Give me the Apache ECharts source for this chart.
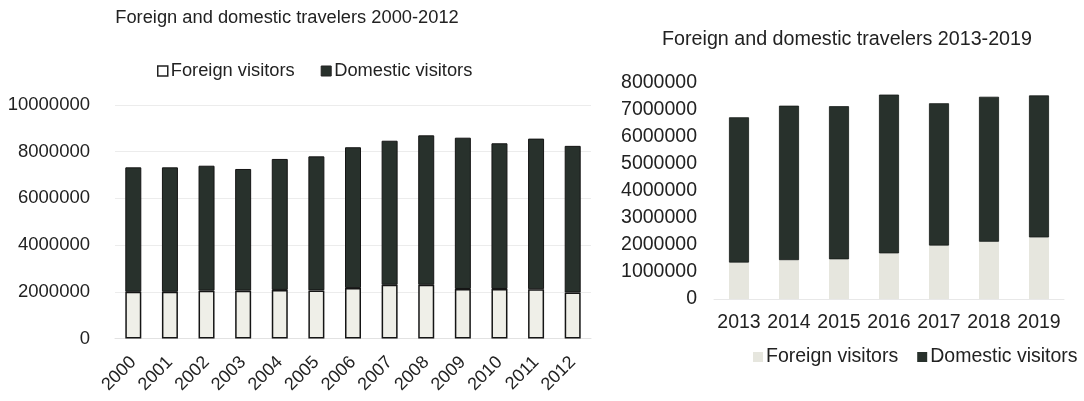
<!DOCTYPE html>
<html>
<head>
<meta charset="utf-8">
<script src="https://cdn.jsdelivr.net/npm/echarts@6/dist/echarts.min.js"></script>
<style>
html,body{margin:0;padding:0;background:#fff;}
#c{width:1084px;height:401px;}
</style>
</head>
<body>
<div id="c"></div>
<script>
// ---- data ----
const leftYears = ['2000','2001','2002','2003','2004','2005','2006','2007','2008','2009','2010','2011','2012'];
const leftForeign = [2000000,2000000,2050000,2050000,2080000,2060000,2160000,2300000,2300000,2120000,2120000,2110000,1970000];
const leftDomestic = [5330000,5330000,5350000,5210000,5610000,5740000,6030000,6170000,6400000,6480000,6240000,6450000,6280000];

const rightYears = ['2013','2014','2015','2016','2017','2018','2019'];
const rightForeign = [1350000,1440000,1470000,1690000,1980000,2120000,2280000];
const rightDomestic = [5380000,5720000,5670000,5880000,5270000,5370000,5260000];

const leftTitle = 'Foreign and domestic travelers 2000-2012';
const rightTitle = 'Foreign and domestic travelers 2013-2019';
const seriesNames = ['Foreign visitors','Domestic visitors'];

// ---- styles ----
const FONT = '"Liberation Sans", Arial, sans-serif';
const TXT = '#222';
const DARK = '#28312c';
const LIGHT_L = '#efefe8';
const LIGHT_R = '#e6e6de';
const plain = v => String(v);

const chart = echarts.init(document.getElementById('c'));
chart.setOption({
  animation: false,
  textStyle: {fontFamily: FONT, color: TXT},
  title: [
    {text: leftTitle, left: 282, top: 4, textAlign: 'center',
     textStyle: {fontFamily: FONT, fontSize: 18.3, fontWeight: 'normal', color: TXT}},
    {text: rightTitle, left: 842, top: 25, textAlign: 'center',
     textStyle: {fontFamily: FONT, fontSize: 19.7, fontWeight: 'normal', color: TXT}}
  ],
  legend: [
    {left: 152, top: 57, itemWidth: 10, itemHeight: 10, itemGap: 26, icon: 'rect',
     textStyle: {fontFamily: FONT, fontSize: 18.3, color: TXT, padding: [0,0,0,-2]},
     data: [
       {name: seriesNames[0], itemStyle: {color: '#fff', borderColor: '#222', borderWidth: 1.5}},
       {name: seriesNames[1], itemStyle: {color: DARK, borderColor: '#222', borderWidth: 1}}
     ]},
    {left: 748, top: 342, width: 336, itemWidth: 10, itemHeight: 10, itemGap: 19, icon: 'rect',
     textStyle: {fontFamily: FONT, fontSize: 19.5, color: TXT, padding: [0,0,0,-2]},
     data: [
       {name: seriesNames[0], itemStyle: {color: LIGHT_R, borderWidth: 0}},
       {name: seriesNames[1], itemStyle: {color: DARK, borderWidth: 0}}
     ]}
  ],
  grid: [
    {left: 115, top: 105, width: 476, height: 233.5},
    {left: 714, top: 83, width: 350, height: 216}
  ],
  xAxis: [
    {type: 'category', gridIndex: 0, data: leftYears,
     axisLine: {lineStyle: {color: '#e2e2e2'}}, axisTick: {show: false},
     axisLabel: {rotate: 45, interval: 0, margin: 21, fontFamily: FONT, fontSize: 18, color: TXT}},
    {type: 'category', gridIndex: 1, data: rightYears,
     axisLine: {lineStyle: {color: '#e8e8e8'}}, axisTick: {show: false},
     axisLabel: {interval: 0, margin: 14, fontFamily: FONT, fontSize: 19.5, color: TXT}}
  ],
  yAxis: [
    {type: 'value', gridIndex: 0, min: 0, max: 10000000, interval: 2000000,
     axisLine: {show: false}, axisTick: {show: false},
     splitLine: {lineStyle: {color: '#ececec'}},
     axisLabel: {margin: 25, formatter: plain, fontFamily: FONT, fontSize: 18.5, color: TXT}},
    {type: 'value', gridIndex: 1, min: 0, max: 8000000, interval: 1000000,
     axisLine: {show: false}, axisTick: {show: false},
     splitLine: {show: false},
     axisLabel: {margin: 17, formatter: plain, fontFamily: FONT, fontSize: 19.5, color: TXT}}
  ],
  series: [
    {name: seriesNames[0], type: 'bar', stack: 'L', xAxisIndex: 0, yAxisIndex: 0,
     barWidth: 16, data: leftForeign,
     itemStyle: {color: LIGHT_L, borderColor: '#151515', borderWidth: 1.5}},
    {name: seriesNames[1], type: 'bar', stack: 'L', xAxisIndex: 0, yAxisIndex: 0,
     barWidth: 16, data: leftDomestic,
     itemStyle: {color: DARK, borderColor: '#151515', borderWidth: 1}},
    {name: seriesNames[0], type: 'bar', stack: 'R', xAxisIndex: 1, yAxisIndex: 1,
     barWidth: 20, data: rightForeign,
     itemStyle: {color: LIGHT_R}},
    {name: seriesNames[1], type: 'bar', stack: 'R', xAxisIndex: 1, yAxisIndex: 1,
     barWidth: 20, data: rightDomestic,
     itemStyle: {color: DARK, borderColor: '#151a17', borderWidth: 0.8}}
  ]
});
</script>
</body>
</html>
